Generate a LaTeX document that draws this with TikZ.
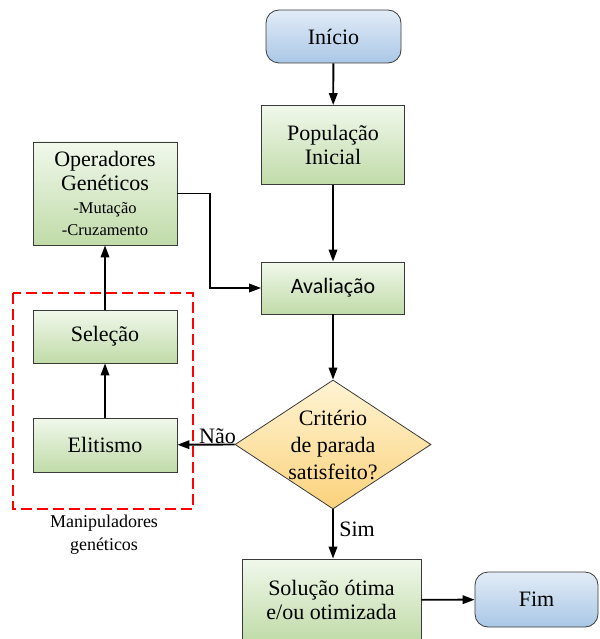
\documentclass[tikz,border=0pt]{standalone}
\usepackage{fontspec}
\setmainfont{Liberation Serif}
\newfontfamily\calibfont{Carlito}
\usetikzlibrary{shapes.geometric,arrows.meta}
\definecolor{grtop}{HTML}{F1F8EC}
\definecolor{grbot}{HTML}{C0DBA8}
\definecolor{bltop}{HTML}{E2ECF7}
\definecolor{blbot}{HTML}{AAC7E6}
\definecolor{yetop}{HTML}{FFF4D4}
\definecolor{yebot}{HTML}{FBD27C}
\definecolor{edge}{HTML}{3A3A3A}
\tikzset{
  procbox/.style={draw=edge, line width=0.8pt, top color=grtop, bottom color=grbot,
    minimum width=144pt, align=center, inner sep=2pt, font=\fontsize{22}{26}\selectfont},
  termbox/.style={draw=edge, line width=0.8pt, top color=bltop, bottom color=blbot,
    rounded corners=13pt, align=center, font=\fontsize{22}{26}\selectfont},
  decbox/.style={diamond, draw=edge, line width=0.8pt, top color=yetop, bottom color=yebot,
    minimum width=196pt, minimum height=129pt, inner sep=0pt},
  flow/.style={line width=1.9pt, -{Triangle[length=12pt,width=8.5pt]}},
  lbl/.style={font=\fontsize{22}{26}\selectfont},
  group/.style={draw=red, line width=1.6pt, dash pattern=on 11pt off 5pt}
}
\begin{document}
\begin{tikzpicture}[x=1pt,y=-1pt]
  \useasboundingbox (0,0) rectangle (599,639);

  % main column
  \node[termbox, minimum width=135pt, minimum height=53pt] (ini) at (333.5,36.5) {Início};
  \node[procbox, minimum width=143pt, minimum height=79pt] (pop) at (333,145) {População\\[-2pt]Inicial};
  \node[procbox, minimum width=143pt, minimum height=52pt, font=\calibfont\fontsize{22}{26}\selectfont] (aval) at (333,288) {Avaliação};
  \node[decbox] (dec) at (333,444.5) {};
  \node[font=\fontsize{22}{27}\selectfont, align=center] (dectxt) at (333,445) {Critério\\de parada\\satisfeito?};
  \node[procbox, minimum width=179pt, minimum height=82pt] (sol) at (331.5,600) {Solução ótima\\[-2pt]e/ou otimizada};
  \node[termbox, minimum width=123pt, minimum height=55pt] (fim) at (536.5,599.5) {Fim};

  % genetic operators column
  \node[procbox, minimum width=144pt, minimum height=103pt, font=\fontsize{22}{24}\selectfont] (oper) at (105,193.5)
    {Operadores\\Genéticos\\[-1pt]{\fontsize{16.5}{24}\selectfont -Mutação}\\[-2pt]{\fontsize{16.5}{20}\selectfont -Cruzamento}};
  \node[procbox, minimum width=144pt, minimum height=53pt] (sel) at (105,336.5) {Seleção};
  \node[procbox, minimum width=144pt, minimum height=54pt] (elit) at (105,445) {Elitismo};

  % group of genetic manipulators
  \draw[group] (13,293) rectangle (193,509);
  \node[font=\fontsize{18}{23}\selectfont, align=center] (grplbl) at (104,535) {Manipuladores\\genéticos};

  % connectors
  \draw[flow] (ini) -- (pop);
  \draw[flow] (pop) -- (aval);
  \draw[flow] (aval) -- (dec.north);
  \draw[flow] (dec.south) -- node[lbl, right, pos=0.4, xshift=2pt] {Sim} (sol.north -| dec.south);
  \draw[flow] (sol) -- (fim);
  \draw[flow] (dec.west) -- node[lbl, above, pos=0.3, yshift=-3pt] {Não} (elit);
  \draw[flow] (elit) -- (sel);
  \draw[flow] (sel) -- (oper);
  \coordinate (bend) at (210,193.5);
  \draw[flow] (oper.east) -- (bend) |- (aval.west);
\end{tikzpicture}
\end{document}
